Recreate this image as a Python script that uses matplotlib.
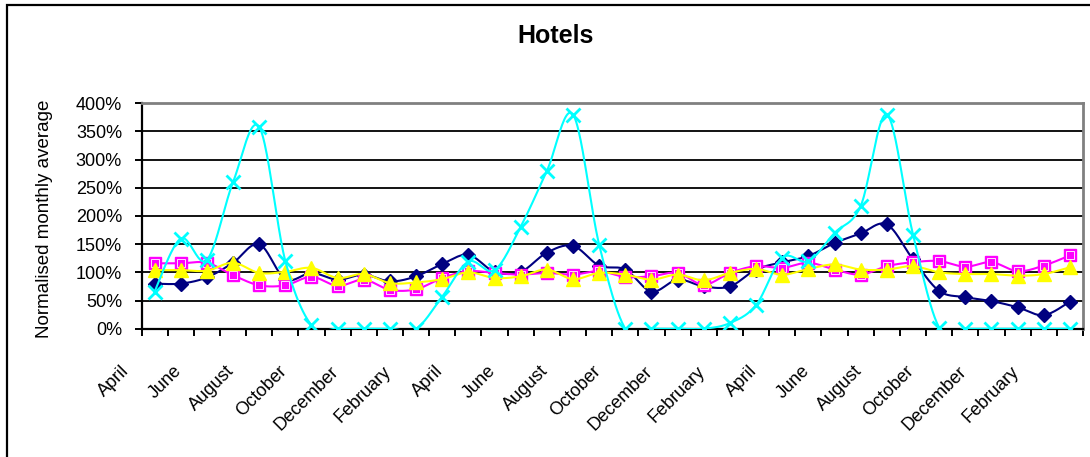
import numpy as np
import matplotlib
matplotlib.use("Agg")
import matplotlib.pyplot as plt
from matplotlib.patches import Rectangle

plt.rcParams['font.family'] = ['Liberation Sans', 'DejaVu Sans']

# Month sequence: April to March, three years
months = ["April", "May", "June", "July", "August", "September",
          "October", "November", "December", "January", "February", "March"] * 3

# Normalised monthly averages (%)
series_navy = [80, 80, 91, 117, 150, 88, 99, 87, 96, 84, 93, 115,
               131, 101, 101, 135, 147, 112, 105, 66, 87, 75, 75, 105,
               118, 129, 152, 169, 185, 123, 67, 56, 49, 38, 24, 48]
series_magenta = [116, 116, 117, 95, 77, 77, 92, 76, 87, 69, 70, 90,
                  102, 99, 96, 99, 96, 102, 92, 93, 99, 78, 99, 111,
                  108, 117, 105, 96, 111, 118, 120, 110, 118, 102, 112, 130]
series_yellow = [104, 104, 103, 117, 99, 101, 108, 90, 97, 81, 82, 88,
                 100, 90, 93, 105, 88, 99, 96, 87, 96, 86, 99, 106,
                 96, 106, 114, 105, 105, 111, 100, 97, 97, 94, 97, 109]
series_cyan = [66, 160, 122, 260, 358, 120, 6, 0, 0, 0, 0, 57,
               119, 104, 181, 280, 380, 149, 0, 0, 0, 0, 10, 42,
               126, 120, 170, 218, 380, 167, 2, 0, 0, 0, 0, 0]

y_ticks = [0, 50, 100, 150, 200, 250, 300, 350, 400]


def smooth_curve(x, y, steps=24):
    """Catmull-Rom curve through the points (Excel-style smoothed line)."""
    x = np.asarray(x, float)
    y = np.asarray(y, float)
    px = np.concatenate([[x[0]], x, [x[-1]]])
    py = np.concatenate([[y[0]], y, [y[-1]]])
    xs, ys = [], []
    t = np.linspace(0, 1, steps, endpoint=False)
    for i in range(1, len(px) - 2):
        p0x, p1x, p2x, p3x = px[i - 1], px[i], px[i + 1], px[i + 2]
        p0y, p1y, p2y, p3y = py[i - 1], py[i], py[i + 1], py[i + 2]
        c1x, c1y = p1x + (p2x - p0x) / 6, p1y + (p2y - p0y) / 6
        c2x, c2y = p2x - (p3x - p1x) / 6, p2y - (p3y - p1y) / 6
        b0 = (1 - t) ** 3
        b1 = 3 * (1 - t) ** 2 * t
        b2 = 3 * (1 - t) * t ** 2
        b3 = t ** 3
        xs.append(b0 * p1x + b1 * c1x + b2 * c2x + b3 * p2x)
        ys.append(b0 * p1y + b1 * c1y + b2 * c2y + b3 * p2y)
    xs.append([x[-1]])
    ys.append([y[-1]])
    return np.concatenate(xs), np.concatenate(ys)


fig = plt.figure(figsize=(10.9, 4.57), dpi=100)
ax = fig.add_axes([141.5 / 1090, 1 - 328.7 / 457, (1083 - 141.5) / 1090, (328.7 - 103.3) / 457])

x = np.arange(len(months))
lw = 1.5

# navy diamonds
sx, sy = smooth_curve(x, series_navy)
ax.plot(sx, sy, color='#000080', lw=lw, zorder=3)
ax.plot(x, series_navy, ls='none', marker='D', ms=7.5, color='#000080', zorder=3.1)

# magenta squares
sx, sy = smooth_curve(x, series_magenta)
ax.plot(sx, sy, color='#FF00FF', lw=lw, zorder=4)
ax.plot(x, series_magenta, ls='none', marker='s', ms=8, mfc='#FF00FF', mec='#FF00FF', zorder=4.1)
ax.plot(x, series_magenta, ls='none', marker='s', ms=6, mfc='#FF00FF', mec='white', mew=0.6, zorder=4.2)

# yellow triangles
sx, sy = smooth_curve(x, series_yellow)
ax.plot(sx, sy, color='#FFFF00', lw=lw, zorder=5)
ax.plot(x, series_yellow, ls='none', marker='^', ms=10, mfc='#FFFF00', mec='#FFFF00', zorder=5.1)

# cyan crosses
sx, sy = smooth_curve(x, series_cyan)
ax.plot(sx, sy, color='#00FFFF', lw=lw, zorder=6)
ax.plot(x, series_cyan, ls='none', marker='x', ms=10, mew=2, color='#00FFFF', zorder=6.1)

ax.set_xlim(-0.5, len(months) - 0.5)
ax.set_ylim(0, 400)

ax.set_yticks(y_ticks)
ax.set_yticklabels([f"{v}%" for v in y_ticks], fontsize=13)
ax.tick_params(axis='y', direction='out', length=5, width=1.4, pad=9, colors='black')
ax.yaxis.grid(True, color='black', lw=1.3)
ax.set_axisbelow(True)

# category boundary ticks on x, labels every second month
ax.set_xticks(np.arange(-0.5, len(months), 1.0))
ax.set_xticklabels([])
ax.tick_params(axis='x', direction='out', length=5, width=1.4)
for i in range(0, len(months), 2):
    ax.annotate(months[i], xy=(i, 0), xycoords=('data', 'axes fraction'),
                xytext=(-15.5, -24.5), textcoords='offset points',
                rotation=45, ha='right', va='top', fontsize=13,
                annotation_clip=False)

for side in ('left', 'bottom'):
    ax.spines[side].set_color('black')
    ax.spines[side].set_linewidth(1.6)
for side in ('top', 'right'):
    ax.spines[side].set_color('#808080')
    ax.spines[side].set_linewidth(2)

fig.text(556 / 1090, 1 - 36 / 457, "Hotels", ha='center', va='center',
         fontsize=18, fontweight='bold')
fig.text(45 / 1090, 1 - 219 / 457, "Normalised monthly average", rotation=90,
         ha='center', va='center', fontsize=13.5)

# chart frame
fig.add_artist(Rectangle((7 / 1090, -0.2), 1.2, 1.2 - 5 / 457, transform=fig.transFigure,
                         fill=False, edgecolor='black', lw=1.6, clip_on=False))

fig.savefig("out.png", dpi=100)
